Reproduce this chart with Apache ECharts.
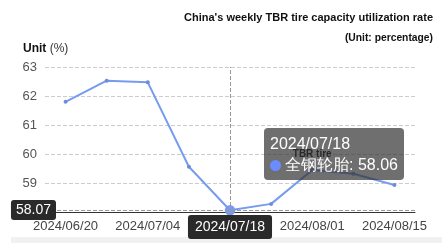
<!DOCTYPE html>
<html><head><meta charset="utf-8">
<script src="https://cdn.jsdelivr.net/npm/echarts@6/dist/echarts.min.js"></script>
<style>html,body{margin:0;padding:0;background:#fff;}#c{width:442px;height:243px;}</style>
</head><body><div id="c"></div>
<script>
const categories = ['2024/06/20','2024/06/27','2024/07/04','2024/07/11','2024/07/18','2024/07/25','2024/08/01','2024/08/08','2024/08/15'];
const values = [61.80, 62.53, 62.47, 59.56, 58.06, 58.28, 59.45, 59.32, 58.93];
const seriesName = '全钢轮胎';
const yTicks = {min: 58, max: 63, interval: 1};
const titleText = "China's weekly TBR tire capacity utilization rate";
const subText = '(Unit: percentage)';
const FONT = 'Liberation Sans, Arial, sans-serif';

const chart = echarts.init(document.getElementById('c'));
chart.setOption({
  animation: false,
  textStyle: {fontFamily: FONT},
  title: [
    {text: titleText, right: 9, top: 12, padding: 0,
     textStyle: {fontSize: 11, fontWeight: 'bold', color: '#111', fontFamily: FONT}},
    {text: subText, right: 9, top: 33, padding: 0,
     textStyle: {fontSize: 10.3, fontWeight: 'bold', color: '#111', fontFamily: FONT}}
  ],
  grid: {left: 45, right: 27, top: 67, bottom: 31, containLabel: false},
  tooltip: {
    trigger: 'axis',
    backgroundColor: 'rgba(50,50,50,0.7)',
    borderWidth: 0,
    padding: [5, 6],
    extraCssText: 'box-shadow:none;border-radius:4px;',
    textStyle: {color: '#fff', fontSize: 16, fontFamily: FONT},
    position: [264, 128],
    axisPointer: {type: 'cross', crossStyle: {color: '#999', type: 'dashed', width: 1},
      lineStyle: {color: '#999', type: 'dashed'}},
    formatter: function (ps) {
      const p = ps[0];
      return '<div style="line-height:21px">' + p.name + '<br/>' +
        '<span style="display:inline-block;width:11px;height:11px;border-radius:50%;background:#6b8cff;margin-right:4px;vertical-align:-1px"></span>' +
        p.seriesName + ': ' + p.value.toFixed(2) + '</div>';
    }
  },
  xAxis: {
    type: 'category', data: categories, boundaryGap: true,
    axisLine: {lineStyle: {color: '#333'}},
    axisTick: {interval: 1, lineStyle: {color: '#333'}},
    axisLabel: {interval: 1, fontSize: 13, color: '#444', margin: 8},
    axisPointer: {label: {backgroundColor: '#2a2a2a', color: '#fff', fontSize: 14, padding: [5, 7, 5, 7], margin: 3}}
  },
  yAxis: {
    type: 'value', min: yTicks.min, max: yTicks.max, interval: yTicks.interval,
    name: '{b|Unit} {n|(%)}', nameLocation: 'end', nameGap: 12,
    nameTextStyle: {align: 'left', padding: [0, 0, 0, -22], rich: {
      b: {fontWeight: 'bold', fontSize: 12, color: '#111', fontFamily: FONT},
      n: {fontSize: 12, color: '#333', fontFamily: FONT}
    }},
    axisLine: {show: false}, axisTick: {show: false},
    axisLabel: {fontSize: 13, color: '#555', margin: 8},
    splitLine: {lineStyle: {color: '#ccc', type: 'dashed'}},
    axisPointer: {label: {backgroundColor: '#2a2a2a', color: '#fff', fontSize: 14, padding: [3, 5, 3, 5], margin: -11,
      formatter: function (o) { return Number(o.value).toFixed(2); }}}
  },
  graphic: [{type: 'rect', left: 11, top: 237, shape: {width: 431, height: 6}, style: {fill: '#f1f1f1'}, silent: true}],
  series: [{
    type: 'line', name: seriesName, data: values.map(function (v, i) {
      if (i === 6) return {value: v, label: {show: true, position: 'top', distance: 9, formatter: 'TBR tire', fontSize: 10, fontWeight: 'bold', color: '#111'}};
      return v;
    }),
    symbol: 'circle', symbolSize: 4, showSymbol: true,
    lineStyle: {color: '#6d8dda', width: 2},
    itemStyle: {color: '#6d8dda'},
    emphasis: {scale: 2.6, itemStyle: {color: '#7a9af0'}}
  }]
});

const px = chart.convertToPixel({xAxisIndex: 0}, categories[4]);
const py = chart.convertToPixel({yAxisIndex: 0}, 58.07);
chart.dispatchAction({type: 'showTip', x: px, y: py});
</script></body></html>
